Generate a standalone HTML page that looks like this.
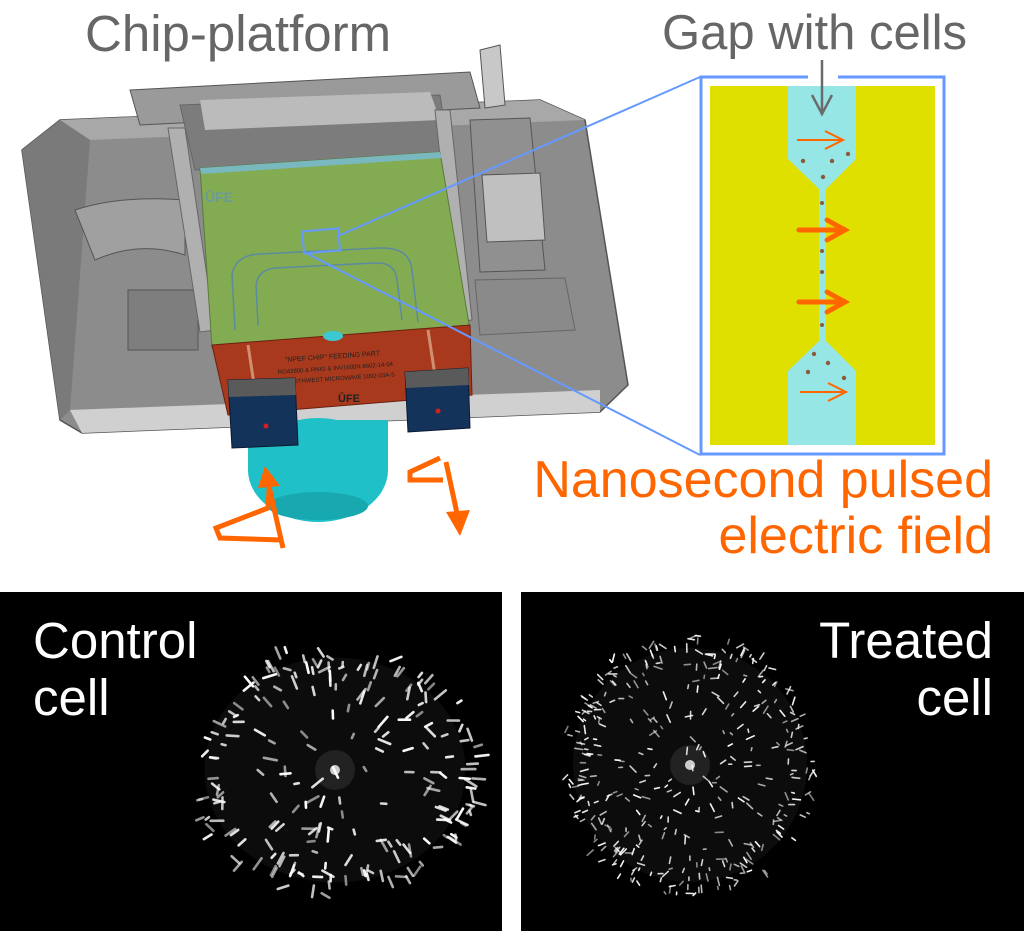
<!DOCTYPE html>
<html><head><meta charset="utf-8"><style>
html,body{margin:0;padding:0;background:#fff;}
#w{position:relative;width:1024px;height:931px;overflow:hidden;background:#fff;font-family:"Liberation Sans",sans-serif;}
.t{position:absolute;white-space:nowrap;}
</style></head><body><div id="w">
<svg width="1024" height="931" style="position:absolute;left:0;top:0">
<polygon points="22,150 60,120 540,100 585,120 628,385 600,412 82,433 60,420" fill="#8c8c8c" stroke="#555" stroke-width="1.5"/>
<polygon points="60,120 540,100 585,120 90,140" fill="#a8a8a8"/>
<polygon points="70,410 600,390 600,412 82,433" fill="#d0d0d0"/>
<polygon points="22,150 60,120 90,140 70,410 60,420" fill="#7a7a7a"/>
<polygon points="130,90 470,72 480,108 140,125" fill="#9a9a9a" stroke="#555"/>
<polygon points="480,50 500,45 505,105 485,108" fill="#c8c8c8" stroke="#555"/>
<polygon points="180,105 440,95 450,160 195,170" fill="#7c7c7c" stroke="#666"/>
<polygon points="200,100 430,92 440,120 205,130" fill="#bbbbbb"/>
<path d="M75,210 Q120,195 185,200 L185,255 Q140,240 95,260 Z" fill="#a0a0a0" stroke="#555"/>
<rect x="128" y="290" width="70" height="60" fill="#7e7e7e" stroke="#555"/>
<polygon points="470,120 530,118 545,270 480,272" fill="#909090" stroke="#555"/>
<polygon points="482,175 540,173 545,240 487,242" fill="#c0c0c0" stroke="#555"/>
<polygon points="475,280 565,278 575,330 480,335" fill="#8a8a8a" stroke="#666"/>
<polygon points="168,128 185,128 215,330 200,332" fill="#b0b0b0" stroke="#666"/>
<polygon points="435,110 450,110 472,320 458,322" fill="#b0b0b0" stroke="#666"/>
<polygon points="200,168 440,152 470,330 212,348" fill="#82ab52" stroke="#5a7a3a"/>
<polygon points="200,168 440,152 442,158 201,174" fill="#7ab8c0"/>
<path d="M235,330 L232,275 Q235,255 260,254 L380,248 Q410,247 412,270 L418,322" fill="none" stroke="#5c8aa0" stroke-width="1.5"/>
<path d="M258,325 L256,285 Q258,270 275,268 L375,263 Q395,262 397,280 L402,320" fill="none" stroke="#5c8aa0" stroke-width="1.5"/>
<text x="205" y="202" font-size="14" font-weight="bold" fill="#6a9a9a" font-family="Liberation Sans">ŪFE</text>
<polygon points="212,345 470,325 472,395 228,415" fill="#a8391c" stroke="#6a2010"/>
<line x1="248" y1="345" x2="258" y2="410" stroke="#d09070" stroke-width="3"/>
<line x1="428" y1="330" x2="438" y2="395" stroke="#d09070" stroke-width="3"/>
<text x="285" y="362" font-size="7" fill="#222" transform="rotate(-4 285 362)">"NPEF CHIP" FEEDING PART</text>
<text x="278" y="374" font-size="6" fill="#222" transform="rotate(-4 278 374)">RO43800 &amp; RNIG &amp; INV1600N 8602-14-04</text>
<text x="285" y="384" font-size="6" fill="#222" transform="rotate(-4 285 384)">SOUTHWEST MICROWAVE 1092-03A-5</text>
<text x="338" y="402" font-size="11" font-weight="bold" fill="#222">ŪFE</text>
<ellipse cx="333" cy="336" rx="10" ry="5" fill="#3cc8d0"/>
<ellipse cx="318" cy="470" rx="70" ry="52" fill="#1fc0c8"/>
<rect x="248" y="420" width="140" height="50" fill="#1fc0c8"/>
<ellipse cx="318" cy="506" rx="50" ry="14" fill="#18a8b0"/>
<polygon points="228,380 295,378 298,445 232,448" fill="#13335a" stroke="#0a1a30"/>
<polygon points="228,380 295,378 296,395 229,397" fill="#5a5a5a"/>
<polygon points="405,372 468,368 470,428 408,432" fill="#13335a" stroke="#0a1a30"/>
<polygon points="405,372 468,368 469,385 406,388" fill="#5a5a5a"/>
<circle cx="266" cy="426" r="2.5" fill="#d02020"/>
<circle cx="438" cy="411" r="2.5" fill="#d02020"/>
<g stroke="#ff6600" stroke-width="5" fill="none">
<line x1="283" y1="548" x2="268" y2="482"/>
<line x1="446" y1="462" x2="458" y2="518"/>
<polyline points="282,540 220,538 216,528 268,508 270,475"/>
<polyline points="443,480 410,480 410,472 440,458"/>
</g>
<polygon points="265,466 258,488 280,486" fill="#ff6600"/>
<polygon points="460,536 446,512 470,510" fill="#ff6600"/>
<rect x="303" y="230" width="36" height="22" fill="none" stroke="#6699ff" stroke-width="2" transform="rotate(-5 320 240)"/>
<line x1="338" y1="236" x2="700" y2="77" stroke="#6699ff" stroke-width="2"/>
<line x1="308" y1="254" x2="700" y2="455" stroke="#6699ff" stroke-width="2"/>
<rect x="701" y="77" width="243" height="377" fill="#fff" stroke="#6699ff" stroke-width="3"/>
<rect x="710" y="86" width="225" height="359" fill="#e0e000"/>
<polygon points="788,86 856,86 856,159 826,189 826,341 856,371 856,445 788,445 788,371 819,341 819,189 788,159" fill="#96e6e6"/>
<rect x="808" y="70" width="30" height="14" fill="#fff"/>
<line x1="822" y1="60" x2="822" y2="114" stroke="#6b6b6b" stroke-width="2.5"/>
<polyline points="812,95 822,114 832,95" fill="none" stroke="#6b6b6b" stroke-width="2.5"/>
<g stroke="#ff6600" fill="none">
<g stroke-width="2"><line x1="797" y1="140" x2="843" y2="140"/><polyline points="825,131 843,140 825,149"/>
<line x1="800" y1="392" x2="846" y2="392"/><polyline points="828,383 846,392 828,401"/></g>
<g stroke-width="5" stroke-linecap="round"><line x1="799" y1="230" x2="845" y2="230"/><polyline points="827,220 845,230 827,240"/>
<line x1="799" y1="302" x2="845" y2="302"/><polyline points="827,292 845,302 827,312"/></g>
</g>
<g fill="#8a5a3a">
<circle cx="803" cy="161" r="2.2"/><circle cx="832" cy="161" r="2.2"/><circle cx="848" cy="154" r="2.2"/><circle cx="823" cy="177" r="2.2"/>
<circle cx="822" cy="203" r="2"/><circle cx="822" cy="251" r="2"/><circle cx="822" cy="272" r="2"/><circle cx="822" cy="325" r="2"/>
<circle cx="814" cy="354" r="2.2"/><circle cx="828" cy="363" r="2.2"/><circle cx="808" cy="372" r="2.2"/><circle cx="844" cy="378" r="2.2"/>
</g>
<rect x="0" y="592" width="502" height="339" fill="#000"/>
<rect x="521" y="592" width="503" height="339" fill="#000"/>
<g id="c1"></g><g id="c2"></g>
</svg>
<div class="t" style="left:85px;top:4px;font-size:51px;color:#666">Chip-platform</div>
<div class="t" style="left:662px;top:5px;font-size:49px;color:#666">Gap with cells</div>
<div class="t" style="right:31px;top:452px;font-size:52px;color:#ff6600;text-align:right;line-height:56px">Nanosecond pulsed<br>electric field</div>
<div class="t" style="left:33px;top:612px;font-size:51px;color:#fff;line-height:57px">Control<br>cell</div>
<div class="t" style="right:31px;top:612px;font-size:51px;color:#fff;line-height:57px;text-align:right">Treated<br>cell</div>
</div>
<script>
var s=12345;function r(){s=(s*16807)%2147483647;return s/2147483647;}
function cell(id,cx,cy,rx,ry,n,len,w){var g=document.getElementById(id),h='';
h+='<ellipse cx="'+cx+'" cy="'+cy+'" rx="'+rx*0.9+'" ry="'+ry*0.9+'" fill="#0c0c0c"/>';
h+='<circle cx="'+cx+'" cy="'+cy+'" r="20" fill="#444" opacity="0.4"/><circle cx="'+cx+'" cy="'+cy+'" r="5" fill="#ccc"/>';
for(var i=0;i<n;i++){var a=r()*6.283,d=Math.sqrt(r());if(r()<0.5)d=0.75+0.25*r();
var x=cx+Math.cos(a)*rx*d,y=cy+Math.sin(a)*ry*d,b=r()<0.5?a:r()*6.283,l=len*(0.4+r());
h+='<line x1="'+x.toFixed(1)+'" y1="'+y.toFixed(1)+'" x2="'+(x+Math.cos(b)*l).toFixed(1)+'" y2="'+(y+Math.sin(b)*l).toFixed(1)+'" stroke="#fff" stroke-opacity="'+(0.5+0.5*r()).toFixed(2)+'" stroke-width="'+w+'" stroke-linecap="round"/>';}
g.innerHTML=h;}
cell('c1',335,770,145,125,220,10,2.6);
cell('c2',690,765,130,130,380,6,1.6);
</script>
</body></html>
